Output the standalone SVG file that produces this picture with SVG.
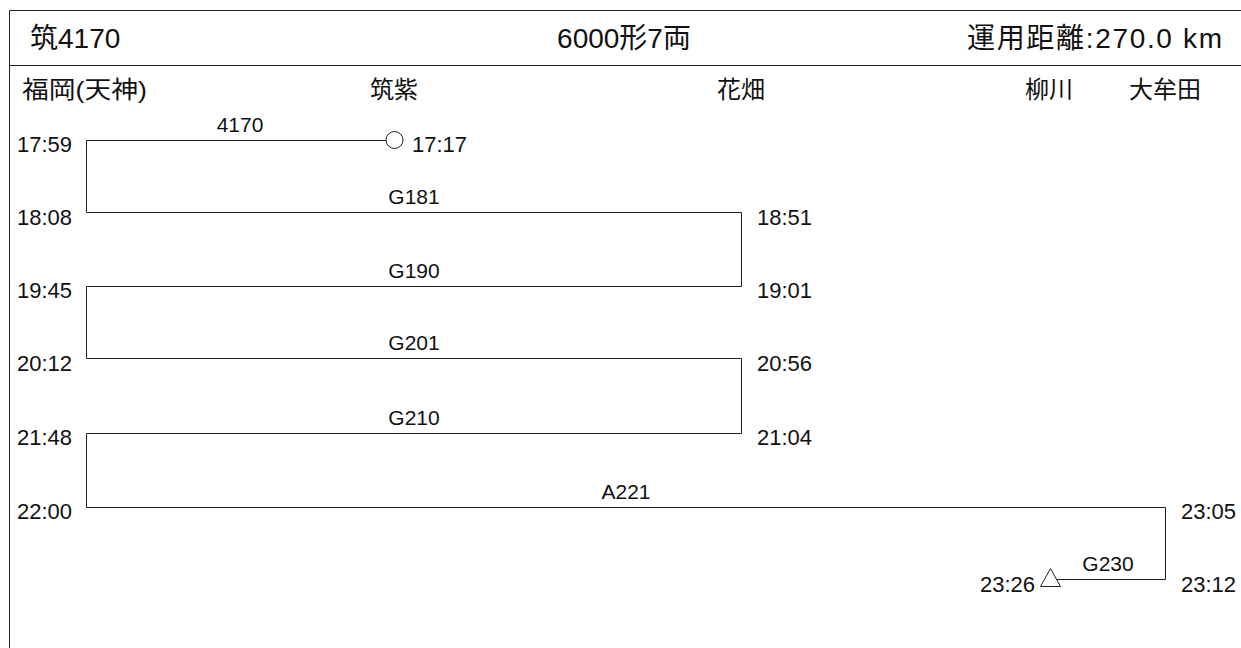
<svg xmlns="http://www.w3.org/2000/svg" width="1241" height="648" viewBox="0 0 1241 648">
<style>
text{font-family:"Liberation Sans","Noto Sans CJK JP",sans-serif;fill:#111}
.title{font-size:28px}
.st{font-size:24px}
.t{font-size:22px}
.lbl{font-size:21px;text-anchor:middle}
.ln{fill:none;stroke:#222;stroke-width:1}
.mid{text-anchor:middle}
</style>
<rect width="1241" height="648" fill="#fff"/>
<g id="frame">
<path class="ln" d="M9.5,648 V10.5 H1241 M9.5,65.5 H1241"/>
</g>
<g id="header">
<text class="title" x="30" y="48">筑4170</text>
<text class="title mid" x="624" y="48">6000形7両</text>
<text class="title" x="967" y="48" textLength="255" lengthAdjust="spacing">運用距離:270.0 km</text>
</g>
<g id="stations">
<text class="st" x="22" y="98" textLength="125" lengthAdjust="spacingAndGlyphs">福岡(天神)</text>
<text class="st mid" x="394" y="98">筑紫</text>
<text class="st mid" x="741" y="98">花畑</text>
<text class="st mid" x="1049" y="98">柳川</text>
<text class="st mid" x="1165" y="98">大牟田</text>
</g>
<g id="connectors">
<path class="ln" d="M386,140.5 H86.5 V212.5 H741.5 V286.5 H86.5 V358.5 H741.5 V433.5 H86.5 V507.5 H1165.5 V579.5 H1057"/>
</g>
<g id="start-node">
<circle class="ln" cx="394.5" cy="140" r="8.5"/>
<text class="t" x="412" y="152">17:17</text>
</g>
<g id="end-node">
<polygon class="ln" points="1050.5,568.5 1040.5,586.5 1060.5,586.5"/>
<text class="t" x="1035" y="592" text-anchor="end">23:26</text>
</g>
<g id="times-left">
<text class="t" x="17" y="152">17:59</text>
<text class="t" x="17" y="225">18:08</text>
<text class="t" x="17" y="298">19:45</text>
<text class="t" x="17" y="371">20:12</text>
<text class="t" x="17" y="445">21:48</text>
<text class="t" x="17" y="519">22:00</text>
</g>
<g id="times-right">
<text class="t" x="757" y="225">18:51</text>
<text class="t" x="757" y="298">19:01</text>
<text class="t" x="757" y="371">20:56</text>
<text class="t" x="757" y="445">21:04</text>
<text class="t" x="1181" y="519">23:05</text>
<text class="t" x="1181" y="592">23:12</text>
</g>
<g id="train-labels">
<text class="lbl" x="240" y="132">4170</text>
<text class="lbl" x="414" y="204">G181</text>
<text class="lbl" x="414" y="278">G190</text>
<text class="lbl" x="414" y="350">G201</text>
<text class="lbl" x="414" y="425">G210</text>
<text class="lbl" x="626" y="499">A221</text>
<text class="lbl" x="1108" y="571">G230</text>
</g>
</svg>
